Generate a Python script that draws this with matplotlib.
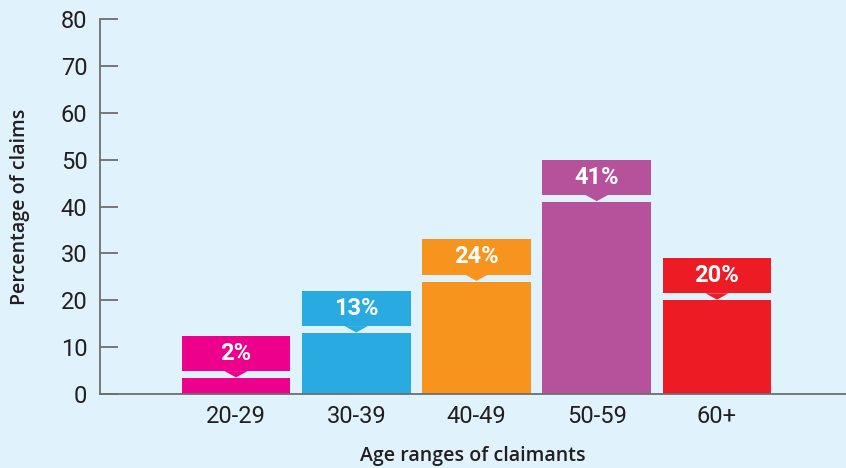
import matplotlib.pyplot as plt
from matplotlib.patches import Polygon
import numpy as np

ages = ["20-29", "30-39", "40-49", "50-59", "60+"]
share = [2, 13, 24, 41, 20]
bar_colors = ["#ec008c", "#29abe2", "#f7941d", "#b6529c", "#ed1c24"]

bg = "#e0f2fc"
ink = "#231f20"
axis_grey = "#6d6e71"

plt.rcParams["font.family"] = ["Roboto", "DejaVu Sans"]

fig = plt.figure(figsize=(8.46, 4.68), dpi=100, facecolor=bg)
ax = fig.add_axes([0.1182, 0.158, 0.8818, 0.8013], facecolor=bg)

x = np.arange(len(ages))
width = 0.906
# the smallest bar is drawn a bit taller so the pointer stays visible
heights = [max(v, 3.4) for v in share]
gap = 1.5
box_h = 7.5
tri_w = 0.096

ax.bar(x, heights, width, color=bar_colors, zorder=2)
ax.bar(x, [box_h] * len(x), width, bottom=[h + gap for h in heights],
       color=bar_colors, zorder=2)
for xi, h, v, c in zip(x, heights, share, bar_colors):
    tri = Polygon([[xi - tri_w, h + gap], [xi + tri_w, h + gap], [xi, h + 0.15]],
                  closed=True, color=c, zorder=2, linewidth=0)
    ax.add_patch(tri)
    ax.text(xi, h + gap + box_h / 2, f"{v}%", color="white", ha="center",
            va="center", fontsize=17, fontweight="bold", zorder=3)

ax.set_xlim(-1.131, 5.073)
ax.set_ylim(0, 80)
ax.set_yticks(range(0, 81, 10))
ax.set_xticks(x, ages)

for s in ["top", "right"]:
    ax.spines[s].set_visible(False)
ax.spines["left"].set_color(axis_grey)
ax.spines["bottom"].set_color(axis_grey)
ax.spines["left"].set_linewidth(1.3)
ax.spines["bottom"].set_linewidth(1.3)

ax.tick_params(axis="y", direction="in", length=13, width=1.3, color=axis_grey,
               labelsize=17, labelcolor=ink, pad=9)
ax.tick_params(axis="x", length=0, labelsize=17, labelcolor=ink, pad=8)

ax.set_ylabel("Percentage of claims", fontsize=14, color=ink, labelpad=22,
              family="Open Sans", fontweight="semibold")
ax.set_xlabel("Age ranges of claimants", fontsize=14, color=ink, labelpad=13,
              family="Open Sans", fontweight="semibold")

fig.savefig("out.png", dpi=100, facecolor=bg)
